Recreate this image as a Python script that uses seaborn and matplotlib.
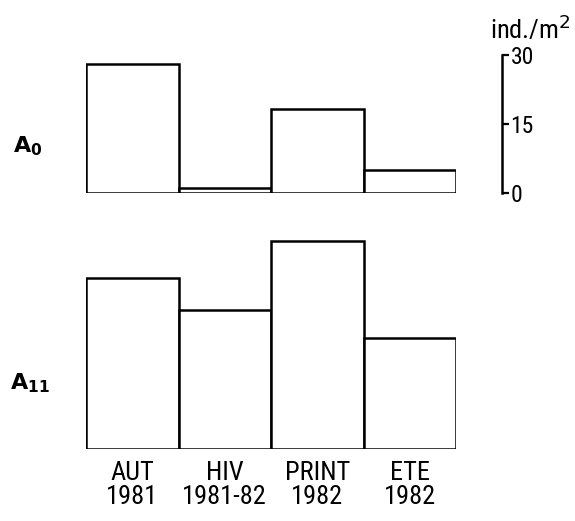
import matplotlib
matplotlib.use("Agg")
import matplotlib.pyplot as plt
from matplotlib import font_manager
import seaborn as sns
import pandas as pd

# --- data (ind./m2)
seasons = ["AUT\n1981", "HIV\n1981-82", "PRINT\n1982", "ETE\n1982"]
a0_values = [28.0, 1.1, 18.3, 5.0]
a11_values = [37.2, 30.2, 45.2, 24.1]
scale_ticks = [0, 15, 30]

sns.set_style("white")

# pick a condensed face if there is one, else plain DejaVu at a smaller size
narrow = None
for fam in ["Liberation Sans Narrow", "DejaVu Sans Condensed", "Roboto Condensed"]:
    try:
        font_manager.findfont(fam, fallback_to_default=False)
        narrow = fam
        break
    except Exception:
        pass
if narrow:
    plt.rcParams["font.family"] = [narrow, "DejaVu Sans"]
    xlab_size, tick_size = 19, 17
else:
    plt.rcParams["font.family"] = ["DejaVu Sans"]
    xlab_size, tick_size = 15, 13
plt.rcParams["text.color"] = "black"
plt.rcParams["xtick.color"] = "black"
plt.rcParams["ytick.color"] = "black"

df0 = pd.DataFrame({"season": seasons, "dens": a0_values})
df11 = pd.DataFrame({"season": seasons, "dens": a11_values})

W, H = 575, 521
fig = plt.figure(figsize=(W / 100, H / 100), dpi=100)

px = 4.6  # pixels per ind./m2, same scale in both panels
left, right = 86 / W, 456 / W
ax0 = fig.add_axes([left, (H - 193) / H, right - left, 30 * px / H])
ax1 = fig.add_axes([left, (H - 449) / H, right - left, 46 * px / H])

bar_kw = dict(x="season", y="dens", width=1.0, color="white",
              edgecolor="black", linewidth=1.8, errorbar=None)
sns.barplot(data=df0, ax=ax0, **bar_kw)
sns.barplot(data=df11, ax=ax1, **bar_kw)

for ax in (ax0, ax1):
    ax.set_xlim(-0.5, 3.5)
    ax.set_xlabel("")
    ax.set_ylabel("")
    for s in ax.spines.values():
        s.set_visible(False)
    ax.patch.set_alpha(0)

ax0.set_ylim(0, 30)
ax1.set_ylim(0, 46)

# scale bar on the right of the top panel
ax0.spines["right"].set_visible(True)
ax0.spines["right"].set_position(("data", 4.0))
ax0.spines["right"].set_linewidth(1.8)
ax0.spines["right"].set_color("black")
ax0.yaxis.tick_right()
ax0.set_yticks(scale_ticks)
ax0.set_yticklabels([str(t) for t in scale_ticks])
ax0.tick_params(axis="y", direction="out", length=5, width=1.6,
                pad=1, labelsize=tick_size, right=True, left=False)
ax0.set_xticks([])
ax0.text(4.3, 32.3, "ind./m$^2$", fontsize=tick_size + 2, ha="center", va="bottom")

ax1.set_yticks([])
ax1.tick_params(axis="x", length=0, pad=9, labelsize=xlab_size)
for lab in ax1.get_xticklabels():
    lab.set_linespacing(0.95)

fig.text(0.022, (H - 146) / H, r"$\mathbf{A}_{\mathbf{0}}$", fontsize=16,
         family="DejaVu Sans", va="center")
fig.text(0.018, (H - 383) / H, r"$\mathbf{A}_{\mathbf{11}}$", fontsize=16,
         family="DejaVu Sans", va="center")

fig.savefig("out.png", dpi=100)
